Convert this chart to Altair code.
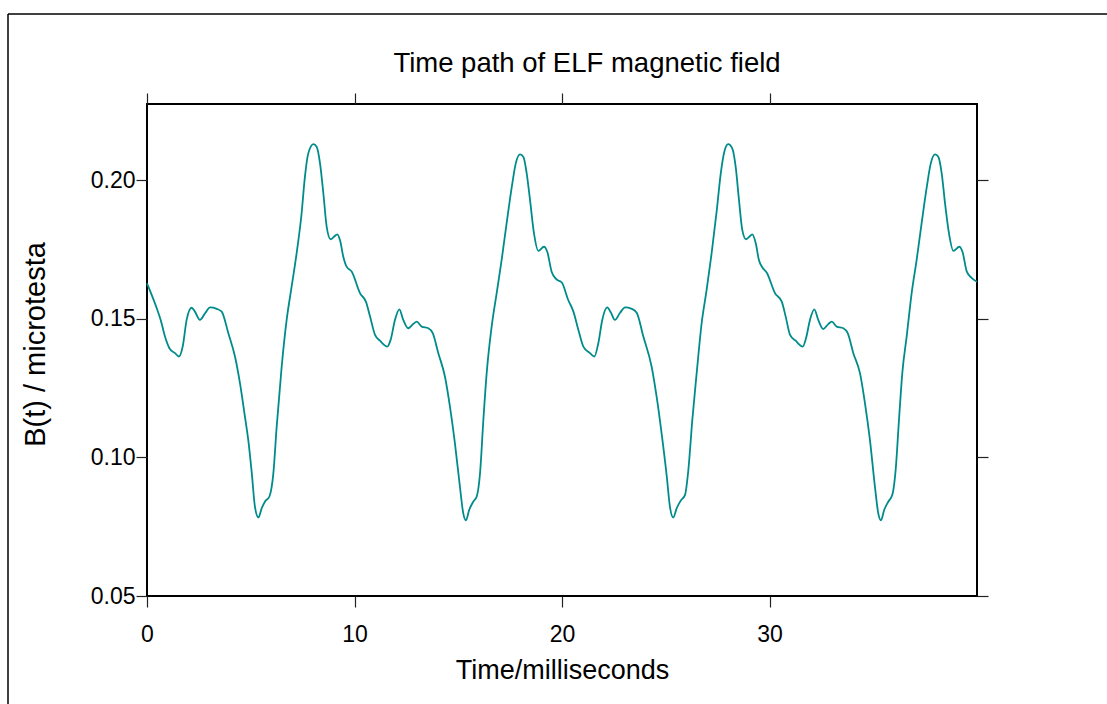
import altair as alt
import pandas as pd

# Sampled ELF magnetic field trace, four 10 ms cycles
time_ms = [
    0.00, 0.47, 0.66, 0.87, 1.08, 1.35, 1.54, 1.72, 1.91, 2.15, 2.31, 2.55, 2.80, 3.04, 3.36, 3.60,
    3.92, 4.24, 4.48, 4.72, 4.88, 5.05, 5.20, 5.37, 5.53, 5.69, 5.90, 6.09, 6.25, 6.49, 6.73, 6.97,
    7.21, 7.45, 7.61, 7.77, 8.02, 8.18, 8.34, 8.50, 8.66, 8.85, 9.01, 9.17, 9.30, 9.46, 9.62, 9.87,
    10.27, 10.55, 10.75, 10.99, 11.23, 11.58, 11.74, 11.95, 12.16, 12.35, 12.59, 12.83, 13.00, 13.24,
    13.56, 13.77, 14.04, 14.36, 14.60, 14.84, 15.08, 15.24, 15.37, 15.53, 15.73, 15.89, 16.05, 16.21,
    16.37, 16.61, 16.85, 17.09, 17.33, 17.58, 17.77, 17.98, 18.14, 18.30, 18.46, 18.65, 18.86, 19.13,
    19.29, 19.50, 19.74,
    19.99, 20.30, 20.55, 20.79, 21.03, 21.35, 21.56, 21.75, 21.94, 22.18, 22.36, 22.55, 22.80, 23.04,
    23.36, 23.60, 23.92, 24.32, 24.56, 24.80, 25.05, 25.20, 25.36, 25.53, 25.73, 25.93, 26.09, 26.28,
    26.49, 26.73, 26.97, 27.21, 27.46, 27.65, 27.82, 28.01, 28.21, 28.37, 28.53, 28.69, 28.87, 29.03,
    29.17, 29.34, 29.49, 29.65, 29.87,
    30.27, 30.59, 30.78, 30.99, 31.26, 31.60, 31.76, 31.95, 32.16, 32.35, 32.59, 32.83, 33.00, 33.24,
    33.56, 33.77, 34.04, 34.36, 34.60, 34.84, 35.08, 35.24, 35.37, 35.53, 35.73, 35.92, 36.08, 36.24,
    36.40, 36.61, 36.85, 37.09, 37.33, 37.58, 37.77, 37.98, 38.14, 38.30, 38.46, 38.65, 38.86, 39.15,
    39.30, 39.51, 39.75, 40.00,
]

field_ut = [
    0.1628, 0.1538, 0.1496, 0.1435, 0.1394, 0.1376, 0.1364, 0.1400, 0.1496, 0.1540, 0.1526, 0.1496,
    0.1520, 0.1541, 0.1536, 0.1526, 0.1448, 0.1364, 0.1268, 0.1147, 0.1063, 0.0943, 0.0823, 0.0783,
    0.0817, 0.0841, 0.0859, 0.0943, 0.1111, 0.1327, 0.1496, 0.1616, 0.1736, 0.1880, 0.2012, 0.2096,
    0.2130, 0.2120, 0.2060, 0.1952, 0.1832, 0.1787, 0.1796, 0.1805, 0.1784, 0.1724, 0.1688, 0.1670,
    0.1592, 0.1562, 0.1508, 0.1442, 0.1421, 0.1400, 0.1424, 0.1496, 0.1534, 0.1496, 0.1466, 0.1481,
    0.1490, 0.1472, 0.1466, 0.1448, 0.1376, 0.1291, 0.1183, 0.1051, 0.0895, 0.0799, 0.0773, 0.0811,
    0.0841, 0.0859, 0.0943, 0.1135, 0.1304, 0.1472, 0.1592, 0.1712, 0.1844, 0.1976, 0.2060, 0.2093,
    0.2084, 0.2024, 0.1928, 0.1808, 0.1745, 0.1760, 0.1742, 0.1670, 0.1642,
    0.1631, 0.1568, 0.1526, 0.1460, 0.1400, 0.1376, 0.1364, 0.1412, 0.1496, 0.1541, 0.1522, 0.1496,
    0.1522, 0.1541, 0.1536, 0.1522, 0.1436, 0.1327, 0.1219, 0.1087, 0.0931, 0.0823, 0.0783, 0.0817,
    0.0845, 0.0865, 0.0955, 0.1135, 0.1304, 0.1484, 0.1604, 0.1736, 0.1892, 0.2024, 0.2102, 0.2130,
    0.2114, 0.2048, 0.1928, 0.1820, 0.1787, 0.1796, 0.1805, 0.1772, 0.1712, 0.1686, 0.1666,
    0.1592, 0.1562, 0.1508, 0.1442, 0.1421, 0.1400, 0.1430, 0.1496, 0.1534, 0.1496, 0.1463, 0.1481,
    0.1490, 0.1472, 0.1466, 0.1448, 0.1376, 0.1304, 0.1196, 0.1063, 0.0895, 0.0799, 0.0773, 0.0811,
    0.0841, 0.0865, 0.0955, 0.1135, 0.1304, 0.1436, 0.1592, 0.1712, 0.1844, 0.1976, 0.2060, 0.2093,
    0.2084, 0.2024, 0.1916, 0.1808, 0.1745, 0.1760, 0.1742, 0.1670, 0.1647, 0.1634,
]

x_ticks = [0, 10, 20, 30]
y_ticks = [0.05, 0.10, 0.15, 0.20]
chart_title = "Time path of ELF magnetic field"

df = pd.DataFrame({"t": time_ms, "b": field_ut})

FONT = "Liberation Sans"
PLOT_W, PLOT_H = 830, 492
LEFT, TOP = 147, 104

x_scale = alt.Scale(domain=[0, 40], nice=False, zero=False)
y_scale = alt.Scale(domain=[0.05, 0.2275], nice=False, zero=False)

base = alt.Chart(df)

curve = base.mark_line(color="#008b8b", strokeWidth=1.8, interpolate="monotone").encode(
    x=alt.X(
        "t:Q",
        scale=x_scale,
        axis=alt.Axis(
            orient="bottom",
            values=x_ticks,
            format="d",
            title="Time/milliseconds",
            labelFlush=False,
            labelPadding=16,
            titleY=82,
            titleBaseline="alphabetic",
        ),
    ),
    y=alt.Y(
        "b:Q",
        scale=y_scale,
        axis=alt.Axis(
            orient="left",
            values=y_ticks,
            format=".2f",
            title="B(t) / microtesta",
            labelFlush=False,
            labelPadding=1,
            titleFontSize=29,
            titleX=-97,
            titleY=240,
            titleAngle=-90,
            titleAlign="center",
            titleBaseline="bottom",
        ),
    ),
)

# Mirror ticks on the top and right edges of the frame
mirror = base.mark_line(opacity=0).encode(
    x=alt.X("t:Q", scale=x_scale,
            axis=alt.Axis(orient="top", values=x_ticks, labels=False, title=None)),
    y=alt.Y("b:Q", scale=y_scale,
            axis=alt.Axis(orient="right", values=y_ticks, labels=False, title=None)),
)

one_row = alt.Data(values=[{"label": chart_title}])

# Chart heading, placed above the frame
heading = alt.Chart(one_row).mark_text(
    font=FONT, fontSize=27.5, color="black", align="center", baseline="alphabetic"
).encode(text="label:N", x=alt.value(587 - LEFT), y=alt.value(72 - TOP))

# Page border along the top and left edges
border_top = alt.Chart(one_row).mark_rule(color="black", strokeWidth=1.5).encode(
    x=alt.value(8 - LEFT), x2=alt.value(1107 - LEFT), y=alt.value(14 - TOP)
)
border_left = alt.Chart(one_row).mark_rule(color="black", strokeWidth=1.5).encode(
    x=alt.value(8 - LEFT), y=alt.value(14 - TOP), y2=alt.value(704 - TOP)
)

chart = (
    alt.layer(curve, mirror, heading, border_top, border_left)
    .resolve_axis(x="independent", y="independent")
    .properties(
        width=PLOT_W,
        height=PLOT_H,
        padding={"left": LEFT, "top": TOP, "right": 1107 - LEFT - PLOT_W, "bottom": 704 - TOP - PLOT_H},
        autosize=alt.AutoSizeParams(type="none"),
        background="white",
    )
    .configure_view(stroke="black", strokeWidth=2)
    .configure_axis(
        domain=False,
        grid=False,
        ticks=True,
        tickSize=11,
        tickColor="#222222",
        tickWidth=1.2,
        labelFont=FONT,
        labelFontSize=23,
        labelColor="black",
        titleFont=FONT,
        titleFontSize=27,
        titleFontWeight="normal",
        titleColor="black",
    )
)

chart.save("out.html", embed_options={"renderer": "svg", "actions": False})
